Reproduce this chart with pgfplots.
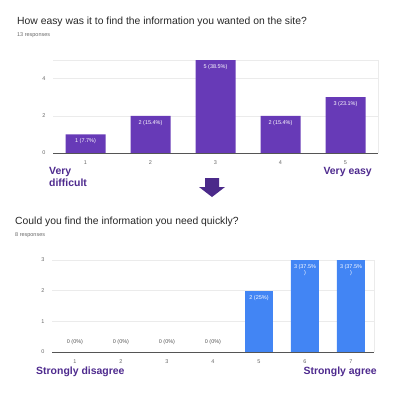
\documentclass[border=0pt]{standalone}
\usepackage{pgfplots}
\pgfplotsset{compat=1.18}
\usepackage{fontspec}
\setmainfont{Liberation Sans}
\definecolor{barpurple}{HTML}{673AB7}
\definecolor{barblue}{HTML}{4285F4}
\definecolor{lblpurple}{HTML}{4E2A8E}
\definecolor{arrowpurple}{HTML}{4B2A8A}
\definecolor{gridc}{HTML}{EBEBEB}
\definecolor{tickc}{HTML}{666666}
\definecolor{basec}{HTML}{555555}
\begin{document}
\begin{tikzpicture}[x=1bp,y=-1bp]
\useasboundingbox (0,0) rectangle (400,394);
\pgfplotsset{
  common/.style={
    scale only axis,
    axis line style={draw=none},
    ymajorgrids, grid style={gridc, line width=0.5pt},
    tick style={draw=none},
    ticklabel style={font=\fontsize{5.5}{6}\selectfont, text=tickc},
    yticklabel style={xshift=-4pt},
    /pgf/number format/assume math mode=true,
    ybar, bar shift=0pt,
    clip=false,
  }
}
% ---------- top ----------
\node[anchor=base west, inner sep=0pt, font=\fontsize{10.4}{12}\selectfont, text=black!85] at (17,24) {How easy was it to find the information you wanted on the site?};
\node[anchor=base west, inner sep=0pt, font=\fontsize{5.5}{6}\selectfont, text=tickc] at (17,36.5) {13 responses};
\begin{axis}[common, at={(53bp,-153bp)}, anchor=south west,
  width=325bp, height=93bp,
  xmin=0.5, xmax=5.5, ymin=0, ymax=5,
  xtick={1,2,3,4,5},
  ytick={0,2,4}, extra y ticks={5}, extra y tick labels={},
  extra y tick style={grid=major},
  bar width=40bp,
  point meta=explicit symbolic,
  nodes near coords, nodes near coords align={below},
  every node near coord/.style={font=\fontsize{5.5}{6}\selectfont, text=white, anchor=north, yshift=-1pt},
]
\draw[gridc, line width=0.5pt] (axis cs:5.5,0) -- (axis cs:5.5,5);
\addplot[fill=barpurple, draw=none] coordinates {
 (1,1) [1 (7.7\%)]
 (2,2) [2 (15.4\%)]
 (3,5) [5 (38.5\%)]
 (4,2) [2 (15.4\%)]
 (5,3) [3 (23.1\%)]
};
\draw[basec, line width=0.8pt] (axis cs:0.5,0) -- (axis cs:5.5,0);
\end{axis}
\node[anchor=north west, align=left, inner sep=0pt, font=\fontsize{10.5}{12.5}\selectfont\bfseries, text=lblpurple] at (49,167) {Very\\difficult};
\node[anchor=north east, inner sep=0pt, font=\fontsize{10.5}{12}\selectfont\bfseries, text=lblpurple] at (372,167) {Very easy};
\fill[arrowpurple] (205,178) -- (219,178) -- (219,187) -- (225,187) -- (212,197) -- (199,187) -- (205,187) -- cycle;
% ---------- bottom ----------
\node[anchor=base west, inner sep=0pt, font=\fontsize{10.4}{12}\selectfont, text=black!85] at (15,224) {Could you find the information you need quickly?};
\node[anchor=base west, inner sep=0pt, font=\fontsize{5.5}{6}\selectfont, text=tickc] at (15,236.5) {8 responses};
\begin{axis}[common, at={(52bp,-352bp)}, anchor=south west,
  width=322bp, height=92bp,
  xmin=0.5, xmax=7.5, ymin=0, ymax=3,
  xtick={1,2,3,4,5,6,7},
  ytick={0,1,2,3},
  bar width=28bp,
]
\draw[gridc, line width=0.5pt] (axis cs:7.5,0) -- (axis cs:7.5,3);
\addplot[draw=none, fill=none, nodes near coords={0 (0\%)},
  every node near coord/.style={font=\fontsize{5.5}{6}\selectfont, text=basec, anchor=south, yshift=4pt}]
  coordinates {(1,0) (2,0) (3,0) (4,0)};
\addplot[fill=barblue, draw=none, nodes near coords={2 (25\%)},
  every node near coord/.style={font=\fontsize{5.5}{6}\selectfont, text=white, anchor=north, yshift=-1pt}]
  coordinates {(5,2)};
\addplot[fill=barblue, draw=none, nodes near coords={3 (37.5\%\\)},
  every node near coord/.style={font=\fontsize{5.5}{6}\selectfont, text=white, anchor=north, yshift=-1pt, align=center}]
  coordinates {(6,3) (7,3)};
\draw[basec, line width=0.8pt] (axis cs:0.5,0) -- (axis cs:7.5,0);
\end{axis}
\node[anchor=north west, inner sep=0pt, font=\fontsize{10.5}{12}\selectfont\bfseries, text=lblpurple] at (36,367) {Strongly disagree};
\node[anchor=north east, inner sep=0pt, font=\fontsize{10.5}{12}\selectfont\bfseries, text=lblpurple] at (377,367) {Strongly agree};
\end{tikzpicture}
\end{document}
